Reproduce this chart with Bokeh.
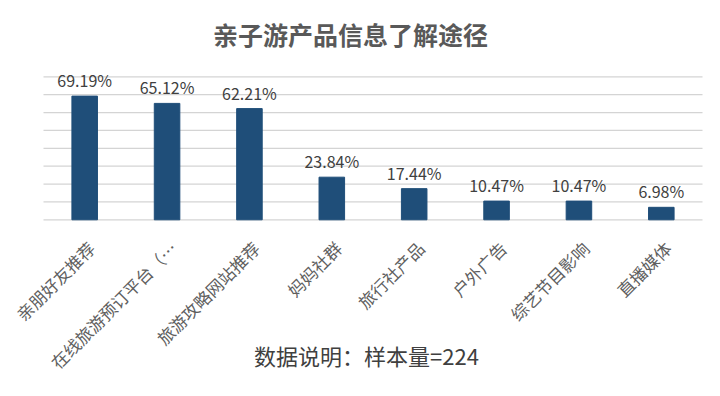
import math
import numpy as np
from bokeh.plotting import figure
from bokeh.models import ColumnDataSource, Range1d
from bokeh.core.properties import value
from bokeh.embed import file_html
from bokeh.resources import INLINE

categories = ["亲朋好友推荐", "在线旅游预订平台（…", "旅游攻略网站推荐", "妈妈社群",
              "旅行社产品", "户外广告", "综艺节目影响", "直播媒体"]
values = [69.19, 65.12, 62.21, 23.84, 17.44, 10.47, 10.47, 6.98]
value_labels = ["69.19%", "65.12%", "62.21%", "23.84%", "17.44%", "10.47%", "10.47%", "6.98%"]
grid_ticks = [0, 10, 20, 30, 40, 50, 60, 70, 80]
title_text = "亲子游产品信息了解途径"
note_text = "数据说明：样本量=224"

FONT = value("Noto Sans CJK SC")

n = len(categories)
xpos = np.arange(n) + 0.5  # category centres in category units

src = ColumnDataSource(dict(x=xpos, cat=categories, val=values, lab=value_labels))

# layout: category band = 82.375px, 1% = 1.7875px
unit_x = 659 / n
unit_y = 143 / 80
W, H = 720, 396
left_pad, base_from_top = 43, 219.3
x_range = Range1d(-left_pad / unit_x, (W - left_pad) / unit_x)
y_range = Range1d(-(H - base_from_top) / unit_y, base_from_top / unit_y)

p = figure(x_range=x_range, y_range=y_range, width=W, height=H,
           output_backend="svg", toolbar_location=None,
           min_border=0, min_border_left=0, min_border_right=0,
           min_border_top=0, min_border_bottom=0)
p.outline_line_color = None
p.axis.visible = False
p.grid.visible = False

# horizontal gridlines across the category span
p.segment(x0=[0] * len(grid_ticks), x1=[n] * len(grid_ticks), y0=grid_ticks, y1=grid_ticks,
          line_color="#d4d4d4", line_width=1.3)

p.vbar(x="x", top="val", width=0.31, source=src, color="#1F4E79")

# value labels above bars
p.text(x="x", y="val", text="lab", source=src, y_offset=-16,
       text_align="center", text_baseline="alphabetic",
       text_font=FONT, text_font_size="16px", text_color="#404040")

# rotated category labels
p.text(x="x", y=0, text="cat", source=src, angle=math.pi / 4,
       x_offset=6.5, y_offset=25, text_align="right", text_baseline="middle",
       text_font=FONT, text_font_size="17px", text_color="#5f5f5f")

# title and note
p.text(x=[(350 - 43) / unit_x], y=[(219.3 - 33) / unit_y], text=[title_text],
       text_align="center", text_baseline="middle", text_font=FONT,
       text_font_size="25px", text_font_style="bold", text_color="#595959")
p.text(x=[(366 - 43) / unit_x], y=[-(354 - 219.3) / unit_y], text=[note_text],
       text_align="center", text_baseline="middle", text_font=FONT,
       text_font_size="22px", text_color="#404040")

open("out.html", "w").write(file_html(p, INLINE))
